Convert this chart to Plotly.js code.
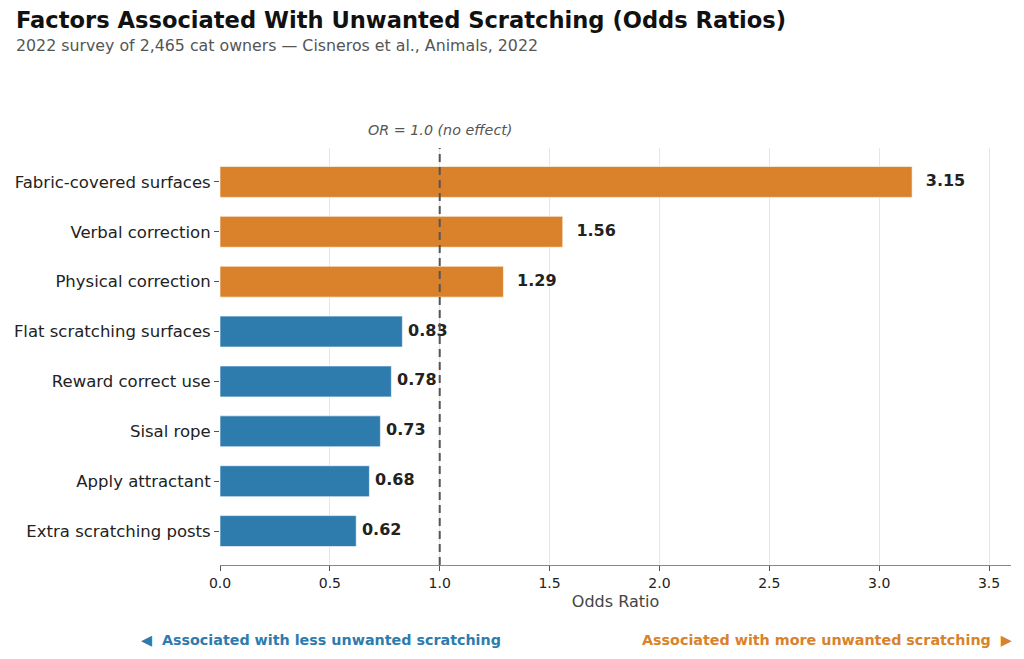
<!DOCTYPE html>
<html>
<head>
<meta charset="utf-8">
<script src="https://cdn.plot.ly/plotly-3.0.1.min.js"></script>
<style>
  html, body { margin: 0; padding: 0; background: #fff; }
  #chart { width: 1024px; height: 659px; }
</style>
</head>
<body>
<div id="chart"></div>
<script>
// Data (top to bottom)
const factors = [
  'Fabric-covered surfaces',
  'Verbal correction',
  'Physical correction',
  'Flat scratching surfaces',
  'Reward correct use',
  'Sisal rope',
  'Apply attractant',
  'Extra scratching posts'
];
const oddsRatios = [3.15, 1.56, 1.29, 0.83, 0.78, 0.73, 0.68, 0.62];
const xTicks = [0, 0.5, 1.0, 1.5, 2.0, 2.5, 3.0, 3.5];

const ORANGE = '#d9822b';
const BLUE = '#2e7bae';
const FONT = 'DejaVu Sans, sans-serif';

const barColors = oddsRatios.map(v => v > 1 ? ORANGE : BLUE);
// small nudge so value labels sit just past the bar end
const labelX = oddsRatios.map(v => v + (v > 1 ? 0.062 : 0.026));

const bars = {
  type: 'bar',
  orientation: 'h',
  x: oddsRatios,
  y: factors,
  width: 0.62,
  marker: { color: barColors, line: { color: 'rgba(255,255,255,0.6)', width: 1 } },
  hoverinfo: 'skip'
};

const labels = {
  type: 'scatter',
  mode: 'text',
  x: labelX,
  y: factors,
  text: oddsRatios.map(v => '<b>' + v.toFixed(2) + '</b>'),
  textposition: 'middle right',
  textfont: { family: FONT, size: 16, color: '#222' },
  hoverinfo: 'skip',
  cliponaxis: false
};

const layout = {
  width: 1024,
  height: 659,
  paper_bgcolor: '#fff',
  plot_bgcolor: '#fff',
  showlegend: false,
  font: { family: FONT, color: '#222' },
  margin: { l: 220, r: 13, t: 148, b: 94 },
  xaxis: {
    range: [0, 3.6],
    tickvals: xTicks,
    ticktext: xTicks.map(v => v.toFixed(1)),
    tickfont: { size: 14, color: '#222' },
    ticks: 'outside',
    ticklen: 5,
    tickcolor: '#555',
    showline: true,
    linecolor: '#888',
    linewidth: 1,
    showgrid: true,
    gridcolor: '#e6e6e6',
    gridwidth: 1,
    zeroline: false,
    title: { text: 'Odds Ratio', font: { size: 16, color: '#444' }, standoff: 6 }
  },
  yaxis: {
    type: 'category',
    categoryorder: 'array',
    categoryarray: factors,
    range: [7.68, -0.68],
    tickfont: { size: 16.5, color: '#222' },
    ticks: 'outside',
    ticklen: 5,
    tickcolor: '#555',
    showline: false,
    showgrid: false,
    zeroline: false
  },
  shapes: [{
    type: 'line',
    xref: 'x', yref: 'paper',
    x0: 1, x1: 1, y0: 0, y1: 1,
    line: { color: '#555', width: 2, dash: '8px,5px' }
  }],
  annotations: [
    {
      xref: 'paper', yref: 'paper', x: -0.2605, y: 1.307, xanchor: 'left', yanchor: 'middle',
      text: '<b>Factors Associated With Unwanted Scratching (Odds Ratios)</b>',
      showarrow: false, font: { size: 22.6, color: '#111', family: FONT }
    },
    {
      xref: 'paper', yref: 'paper', x: -0.2605, y: 1.247, xanchor: 'left', yanchor: 'middle',
      text: '2022 survey of 2,465 cat owners \u2014 Cisneros et al., Animals, 2022',
      showarrow: false, font: { size: 15.8, color: '#555', family: FONT }
    },
    {
      xref: 'x', yref: 'paper', x: 1, y: 1.043, xanchor: 'center', yanchor: 'middle',
      text: '<i>OR = 1.0 (no effect)</i>',
      showarrow: false, font: { size: 14.3, color: '#555', family: FONT }
    },
    {
      xref: 'paper', yref: 'paper', x: -0.102, y: -0.18, xanchor: 'left', yanchor: 'middle',
      text: '<b>\u25C0  Associated with less unwanted scratching</b>',
      showarrow: false, font: { size: 14.3, color: BLUE, family: FONT }
    },
    {
      xref: 'paper', yref: 'paper', x: 1.004, y: -0.18, xanchor: 'right', yanchor: 'middle',
      text: '<b>Associated with more unwanted scratching  \u25B6</b>',
      showarrow: false, font: { size: 14.3, color: ORANGE, family: FONT }
    }
  ]
};

Plotly.newPlot('chart', [bars, labels], layout, { displayModeBar: false, staticPlot: true });
</script>
</body>
</html>
